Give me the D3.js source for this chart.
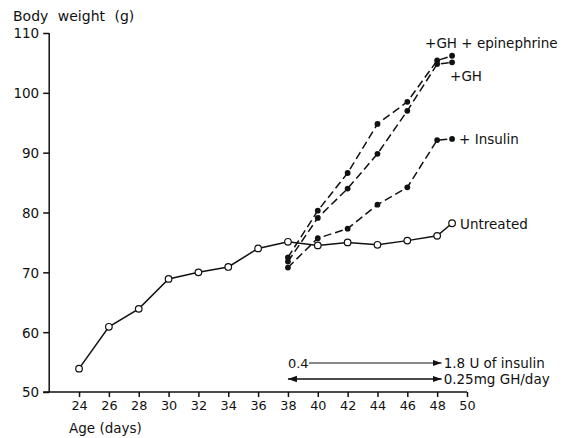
<!DOCTYPE html>
<html>
<head>
<meta charset="utf-8">
<script src="https://cdn.jsdelivr.net/npm/d3@7"></script>
<style>
  html, body { margin: 0; padding: 0; background: #fff; }
  svg { display: block; }
  text { font-family: "DejaVu Sans", sans-serif; fill: #111; }
</style>
</head>
<body>
<svg id="chart" width="569" height="438"></svg>
<script>
// ---- data ----
const untreatedDays = [24, 26, 28, 30, 32, 34, 36, 38, 40, 42, 44, 46, 48, 49];
const untreatedWeight = [53.9, 60.9, 63.9, 68.9, 70.0, 70.9, 74.0, 75.1, 74.5, 75.0, 74.6, 75.3, 76.1, 78.2];
const treatedDays = [38, 40, 42, 44, 46, 48, 49];
const ghEpiWeight = [72.5, 80.3, 86.6, 94.8, 98.5, 105.4, 106.2];
const ghWeight = [71.8, 79.1, 84.0, 89.8, 97.0, 104.8, 105.1];
const insulinWeight = [70.8, 75.7, 77.3, 81.3, 84.2, 92.1, 92.3];
const xTicks = [24, 26, 28, 30, 32, 34, 36, 38, 40, 42, 44, 46, 48, 50];
const yTicks = [50, 60, 70, 80, 90, 100, 110];
const seriesLabels = ["+GH + epinephrine", "+GH", "+ Insulin", "Untreated"];
const insulinDose = ["0.4", "1.8 U of insulin"];
const ghDose = "0.25mg GH/day";
const treatmentStart = 38, treatmentEnd = 48.3;

// ---- scales ----
const svg = d3.select("#chart");
const x = d3.scaleLinear().domain([22, 50]).range([49.2, 467]);
const y = d3.scaleLinear().domain([50, 110]).range([392, 33]);

// ---- axes ----
const yAxis = svg.append("g").attr("transform", `translate(${x(22)},0)`)
  .call(d3.axisLeft(y).tickValues(yTicks).tickSize(6).tickPadding(4).tickFormat(d3.format("d")));
yAxis.select(".domain").attr("d", `M0,${y(110)}V${y(50)}`);
const xAxis = svg.append("g").attr("transform", `translate(0,${y(50)})`)
  .call(d3.axisBottom(x).tickValues(xTicks).tickSize(5).tickPadding(4).tickFormat(d3.format("d")));
xAxis.select(".domain").attr("d", `M${x(22) - 6},0H${x(50)}`);
svg.selectAll(".domain, .tick line").attr("stroke", "#111").attr("stroke-width", 1.5);
yAxis.selectAll("text").attr("font-size", 13.5).attr("font-family", "DejaVu Sans").attr("fill", "#111").attr("dy", "0.36em");
xAxis.selectAll("text").attr("font-size", 12.8).attr("font-family", "DejaVu Sans").attr("fill", "#111");

svg.append("text").attr("x", 13).attr("y", 21).attr("font-size", 14).attr("word-spacing", 5)
  .text("Body weight (g)");
svg.append("text").attr("x", 69).attr("y", 433).attr("font-size", 13.5)
  .text("Age (days)");

// ---- lines ----
const line = d3.line().x(d => x(d[0])).y(d => y(d[1]));
const zip = (a, b) => a.map((v, i) => [v, b[i]]);

const treated = [ghEpiWeight, ghWeight, insulinWeight];
treated.forEach(w => {
  const pts = zip(treatedDays, w);
  svg.append("path").attr("d", line(pts)).attr("fill", "none")
    .attr("stroke", "#111").attr("stroke-width", 1.5).attr("stroke-dasharray", "8,4");
  svg.append("g").selectAll("circle").data(pts).join("circle")
    .attr("cx", d => x(d[0])).attr("cy", d => y(d[1])).attr("r", 2.9).attr("fill", "#111");
});

const uPts = zip(untreatedDays, untreatedWeight);
svg.append("path").attr("d", line(uPts)).attr("fill", "none")
  .attr("stroke", "#111").attr("stroke-width", 1.5);
svg.append("g").selectAll("circle").data(uPts).join("circle")
  .attr("cx", d => x(d[0])).attr("cy", d => y(d[1])).attr("r", 3.3)
  .attr("fill", "#fff").attr("stroke", "#111").attr("stroke-width", 1.2);

// ---- series labels ----
const lastX = x(treatedDays[treatedDays.length - 1]);
const ends = [ghEpiWeight, ghWeight, insulinWeight, untreatedWeight].map(w => y(w[w.length - 1]));
const labelOffsets = [[-27, -12.5], [-2, 13.5], [7, 0.5], [8, 0.5]];
seriesLabels.forEach((t, i) => {
  svg.append("text").attr("x", lastX + labelOffsets[i][0]).attr("y", ends[i] + labelOffsets[i][1])
    .attr("dy", "0.36em").attr("font-size", 13.5).text(t);
});

// ---- dose arrows ----
const defs = svg.append("defs");
defs.append("marker").attr("id", "ah").attr("viewBox", "0 0 10 10").attr("refX", 10).attr("refY", 5)
  .attr("markerWidth", 9).attr("markerHeight", 9).attr("markerUnits", "userSpaceOnUse")
  .attr("orient", "auto-start-reverse")
  .append("path").attr("d", "M0,1.5L10,5L0,8.5Z").attr("fill", "#111");

const r1 = 363, r2 = 379;
svg.append("text").attr("x", x(treatmentStart)).attr("y", r1).attr("dy", "0.36em").attr("font-size", 13).text(insulinDose[0]);
svg.append("line").attr("x1", x(treatmentStart) + 21).attr("x2", x(treatmentEnd)).attr("y1", r1).attr("y2", r1)
  .attr("stroke", "#111").attr("stroke-width", 1).attr("marker-end", "url(#ah)");
svg.append("text").attr("x", x(treatmentEnd) + 2).attr("y", r1).attr("dy", "0.36em").attr("font-size", 13.5).text(insulinDose[1]);

svg.append("line").attr("x1", x(treatmentStart)).attr("x2", x(treatmentEnd)).attr("y1", r2).attr("y2", r2)
  .attr("stroke", "#111").attr("stroke-width", 1.3)
  .attr("marker-start", "url(#ah)").attr("marker-end", "url(#ah)");
svg.append("text").attr("x", x(treatmentEnd) + 2).attr("y", r2).attr("dy", "0.36em").attr("font-size", 13.5).text(ghDose);
</script>
</body>
</html>
